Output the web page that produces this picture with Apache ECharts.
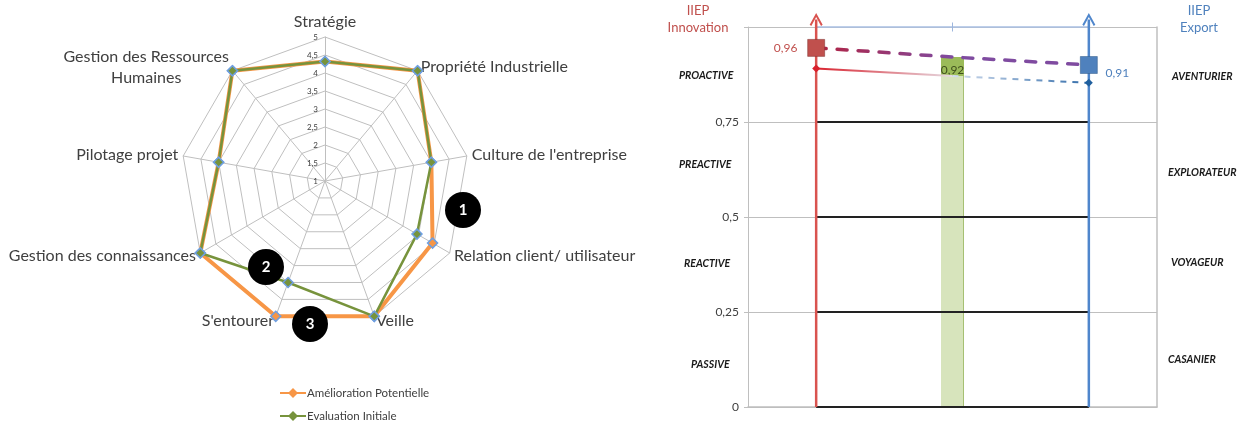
<!DOCTYPE html>
<html>
<head>
<meta charset="utf-8">
<style>
  html, body { margin: 0; padding: 0; background: #fff; }
  #chart { width: 1244px; height: 423px; }
</style>
<script src="https://cdn.jsdelivr.net/npm/echarts@6/dist/echarts.min.js"></script>
</head>
<body>
<div id="chart"></div>
<script>
// radar, listed counter-clockwise from the top
const radarNames = ['Stratégie', 'Gestion des Ressources\nHumaines', 'Pilotage projet', 'Gestion des connaissances', "S'entourer", 'Veille', "Relation client/ utilisateur", "Culture de l'entreprise", 'Propriété Industrielle'];
const potentielle = [4.32, 5, 4, 5, 5, 5, 4.45, 4, 5];
const initiale = [4.32, 5, 4, 5, 4, 5, 3.95, 4, 5];
const radarTicks = ['1', '1,5', '2', '2,5', '3', '3,5', '4', '4,5', '5'];

// right hand chart
const positions = ['Innovation', 'Milieu', 'Export'];
const yTicks = ['0', '0,25', '0,5', '0,75', ''];
const levels = [0, 0.25, 0.5, 0.75];
const upperLine = [0.945, 0.921, 0.9];
const lowerLine = [0.891, 0.871, 0.853];
const bandLower = [null, 0.871, null];
const bandUpper = [null, 0.05, null];
const valueLabels = ['0,96', '0,92', '0,91'];

const font = 'Lato, "Open Sans", sans-serif';
const arrowPath = 'path://M0,10 L6,0 L12,10 L10.5,11 L6,3.5 L1.5,11 Z';
const legendPath = 'path://M0,4 H9 L13,0 L17,4 H26 V6 H17 L13,10 L9,6 H0 Z';

const chart = echarts.init(document.getElementById('chart'));

function zoneText(text, x, y) {
    return {
        type: 'text', x: x, y: y,
        style: { text: text, font: 'italic bold 10.5px ' + font, fill: '#1a1a1a', verticalAlign: 'middle' }
    };
}
function badge(n, x, y) {
    return {
        type: 'group', x: x, y: y,
        children: [
            { type: 'circle', z: 100, shape: { cx: 0, cy: 0, r: 18 }, style: { fill: '#000' } },
            { type: 'text', z: 101, style: { text: n, x: 0, y: 0, align: 'center', verticalAlign: 'middle', font: 'bold 15px ' + font, fill: '#fff' } }
        ]
    };
}
function headText(text, x, color) {
    return {
        type: 'text', x: x, y: 19,
        style: { text: text, font: '13px ' + font, fill: color, align: 'center', verticalAlign: 'middle', lineHeight: 17 }
    };
}

// vertical axis with an arrow on top
function axisArrow(idx, color) {
    return {
        type: 'line', clip: false, z: 6, silent: true,
        data: [
            { value: [idx, 0], symbol: 'none' },
            { value: [idx, 1.02], symbol: arrowPath, symbolSize: 13 }
        ],
        showSymbol: true,
        itemStyle: { color: color },
        lineStyle: { color: color, width: 2.5 }
    };
}

const levelSeries = levels.map(v => ({
    type: 'line', symbol: 'none', z: 4, silent: true,
    data: positions.map(p => v),
    lineStyle: { color: '#222', width: 2 }
}));

chart.setOption({
    animation: false,
    textStyle: { fontFamily: font },
    legend: {
        data: ['Amélioration Potentielle', 'Evaluation Initiale'],
        orient: 'vertical', left: 280, top: 387, height: 60, padding: 0, itemGap: 11,
        itemWidth: 26, itemHeight: 10, selectedMode: false,
        icon: legendPath,
        itemStyle: { borderWidth: 0 },
        lineStyle: { width: 0 },
        textStyle: { fontSize: 11.5, color: '#404040', fontFamily: font, padding: [0, 0, 0, -4] }
    },
    radar: {
        center: [325, 181], radius: 144, startAngle: 90,
        min: 1, max: 5, splitNumber: 8, shape: 'polygon',
        indicator: radarNames.map((n, i) => ({
            name: n, min: 1, max: 5,
            axisLabel: { show: i === 0 }
        })),
        axisName: {
            color: '#404040', fontSize: 16, fontFamily: font, lineHeight: 21,
            // two line name is centred on itself in the reference
            formatter: (n) => n.includes('\n') ? n.split('\n').map(s => '{c|' + s + '}').join('\n') : n,
            rich: { c: { width: 166, align: 'center', fontSize: 16, color: '#404040', fontFamily: font, lineHeight: 21 } }
        },
        nameGap: 5,
        axisLine: { lineStyle: { color: '#bfbfbf', width: 1 } },
        splitLine: { lineStyle: { color: '#bfbfbf', width: 1 } },
        splitArea: { show: false },
        axisTick: { show: false },
        axisLabel: {
            fontSize: 8, color: '#404040', margin: 7,
            formatter: (v) => radarTicks[Math.round((v - 1) * 2)]
        }
    },
    grid: { left: 748, right: 87, top: 27, bottom: 16 },
    xAxis: {
        type: 'category', data: positions,
        axisLine: { lineStyle: { color: '#bfbfbf', width: 1.5 } },
        axisTick: { show: false },
        axisLabel: { show: false },
        splitLine: { show: false }
    },
    yAxis: [
        {
            type: 'value', min: 0, max: 1, interval: 0.25,
            axisLine: { show: true, lineStyle: { color: '#bfbfbf' } },
            axisTick: { show: true, length: 4, lineStyle: { color: '#bfbfbf' } },
            axisLabel: {
                fontSize: 12, color: '#404040', margin: 9,
                formatter: (v) => yTicks[Math.round(v * 4)]
            },
            splitLine: { lineStyle: { color: '#bfbfbf', width: 1 } }
        },
        {
            type: 'value', min: 0, max: 1, interval: 0.25, position: 'right',
            axisLine: { show: true, lineStyle: { color: '#bfbfbf', width: 1.5 } },
            axisTick: { show: false }, axisLabel: { show: false }, splitLine: { show: false }
        }
    ],
    graphic: [
        badge('1', 463, 210), badge('2', 266, 267), badge('3', 310, 324),
        headText('IIEP\nInnovation', 698, '#c0504d'),
        headText('IIEP\nExport', 1199, '#4f81bd'),
        zoneText('PROACTIVE', 679, 76),
        zoneText('PREACTIVE', 679, 165),
        zoneText('REACTIVE', 684, 264),
        zoneText('PASSIVE', 691, 365),
        zoneText('AVENTURIER', 1172, 77),
        zoneText('EXPLORATEUR', 1168, 173),
        zoneText('VOYAGEUR', 1171, 263),
        zoneText('CASANIER', 1168, 360)
    ],
    series: [
        {
            type: 'radar', z: 5,
            symbol: 'diamond', symbolSize: 10,
            data: [
                {
                    name: 'Amélioration Potentielle', value: potentielle,
                    lineStyle: { color: '#f79646', width: 4 },
                    itemStyle: { color: '#f79646', borderColor: '#6f9fe0', borderWidth: 1.5 }
                },
                {
                    name: 'Evaluation Initiale', value: initiale,
                    lineStyle: { color: '#77933c', width: 2.5 },
                    itemStyle: { color: '#77933c', borderColor: '#6f9fe0', borderWidth: 1.5 }
                }
            ]
        },
        {
            type: 'bar', stack: 'band', barWidth: 23, z: 2, silent: true,
            data: bandLower,
            itemStyle: {
                color: new echarts.graphic.LinearGradient(0, 0, 1, 0, [
                    { offset: 0, color: '#d7e4bc' }, { offset: 0.95, color: '#d7e4bc' },
                    { offset: 0.95, color: '#a6c073' }, { offset: 1, color: '#a6c073' }
                ])
            }
        },
        {
            type: 'bar', stack: 'band', barWidth: 23, z: 2, silent: true,
            data: bandUpper,
            itemStyle: { color: '#9bbb59' },
            label: {
                show: true, position: 'insideBottom', distance: 0, fontSize: 12, color: '#3f4f1c',
                formatter: () => valueLabels[1]
            }
        },
        ...levelSeries,
        {
            // top edge between the two axes, with its mid tick
            type: 'line', z: 3, silent: true, clip: false,
            data: [
                { value: 1, symbol: 'none' },
                { value: 1, symbol: 'rect', symbolSize: [1, 9] },
                { value: 1, symbol: 'none' }
            ],
            showSymbol: true,
            itemStyle: { color: '#9db6dd' },
            lineStyle: { color: '#a9c0e3', width: 1.5 }
        },
        axisArrow(0, '#d9534f'),
        axisArrow(2, '#4f86cc'),
        {
            type: 'line', z: 7, silent: true,
            data: lowerLine.slice(0, 2).concat([null]),
            symbol: 'none',
            lineStyle: {
                width: 2,
                color: new echarts.graphic.LinearGradient(0, 0, 1, 0, [
                    { offset: 0, color: '#d9202c' }, { offset: 1, color: '#e6dfe6' }
                ])
            }
        },
        {
            type: 'line', z: 7, silent: true,
            data: [null].concat(lowerLine.slice(1)),
            symbol: 'none',
            lineStyle: {
                width: 2, type: [6, 6],
                color: new echarts.graphic.LinearGradient(0, 0, 1, 0, [
                    { offset: 0, color: '#d6e0f0' }, { offset: 1, color: '#2f6aa8' }
                ])
            }
        },
        {
            // end points of the lower line
            type: 'line', z: 8, silent: true,
            data: [
                { value: lowerLine[0], symbol: 'diamond', symbolSize: 8, itemStyle: { color: '#d9202c' } },
                { value: null },
                { value: lowerLine[2], symbol: 'diamond', symbolSize: 8, itemStyle: { color: '#1f5f9e' } }
            ],
            showSymbol: true,
            lineStyle: { width: 0 },
            connectNulls: false
        },
        {
            type: 'line', z: 7, silent: true,
            data: upperLine,
            symbol: 'none',
            lineStyle: {
                width: 3.5, type: [10, 11], cap: 'round',
                color: new echarts.graphic.LinearGradient(0, 0, 1, 0, [
                    { offset: 0, color: '#b3213f' }, { offset: 0.5, color: '#7f4ba0' }, { offset: 1, color: '#7f4ba0' }
                ])
            }
        },
        {
            // end squares with their values
            type: 'line', z: 9, silent: true,
            data: [
                {
                    value: upperLine[0], symbol: 'rect', symbolSize: 17,
                    itemStyle: { color: '#c0504d', borderColor: '#7a2e2c', borderWidth: 0.5 },
                    label: { show: true, position: 'left', distance: 10, color: '#c0504d', formatter: () => valueLabels[0] }
                },
                { value: null },
                {
                    value: upperLine[2], symbol: 'rect', symbolSize: 17,
                    itemStyle: { color: '#4f81bd', borderColor: '#2c5687', borderWidth: 0.5 },
                    label: { show: true, position: 'right', distance: 8, offset: [0, 8], color: '#4f81bd', formatter: () => valueLabels[2] }
                }
            ],
            showSymbol: true,
            lineStyle: { width: 0 },
            label: { fontSize: 12 }
        }
    ]
});
</script>
</body>
</html>
